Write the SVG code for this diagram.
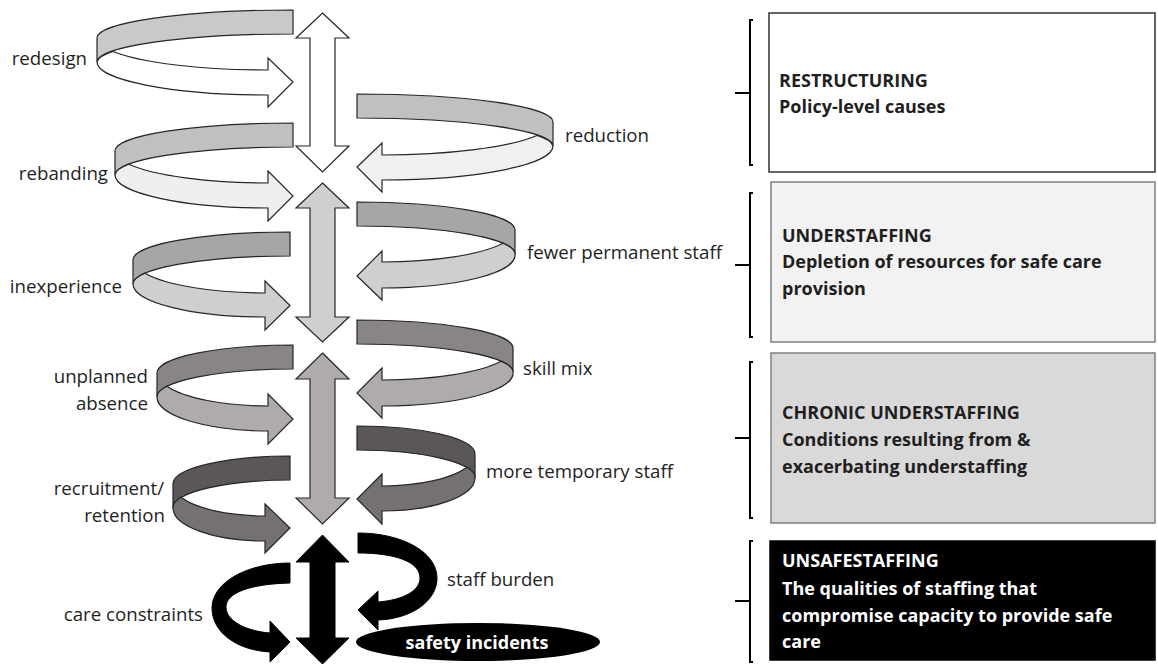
<svg xmlns="http://www.w3.org/2000/svg" width="1158" height="664" viewBox="0 0 1158 664">
<style>
.lbl{font-family:"Open Sans","Liberation Sans",sans-serif;font-size:18.7px;fill:#1f1f1f}
.bt{font-family:"Open Sans","Liberation Sans",sans-serif;font-weight:bold;font-size:18px;fill:#1f1f1f}
.wt{fill:#ffffff}
.s{stroke:#262626;stroke-width:1.2;stroke-linejoin:miter}
.br{fill:none;stroke:#000;stroke-width:2}
</style>
<rect x="0" y="0" width="1158" height="664" fill="#ffffff"/>

<!-- central double arrows -->
<g id="connectors">
<path id="vert1" class="s" fill="#ffffff" d="M322.5,13 L349,38 L335,38 L335,146 L349,146 L322.5,172 L296,146 L310,146 L310,38 L296,38 Z"/>
<path id="vert2" class="s" fill="#d0cece" d="M322.5,183 L349,208 L335,208 L335,317 L349,317 L322.5,342 L296,317 L310,317 L310,208 L296,208 Z"/>
<path id="vert3" class="s" fill="#afabab" d="M322.5,353 L349,379 L335,379 L335,498 L349,498 L322.5,524 L296,498 L310,498 L310,379 L296,379 Z"/>
<path id="vert4" fill="#000" stroke="#000" d="M322.5,535 L349,562 L335,562 L335,638 L349,638 L322.5,664 L296,638 L310,638 L310,562 L296,562 Z"/>
</g>

<!-- left loops -->
<g id="redesign">
<path class="s" fill="#c9c9c9" d="M293,10 A196,28 0 0 0 97,38 L97,62 A196,28 0 0 1 293,34 Z"/>
<path class="s" fill="#ffffff" d="M113,51.5 A171,32 0 0 0 268,70 L268,58 L293,82 L268,107 L268,95 A171,33 0 0 1 97,62 A196,28 0 0 1 113,51.5 Z"/>
<text class="lbl" x="87" y="65" text-anchor="end">redesign</text>
</g>
<g id="rebanding">
<path class="s" fill="#c0c0c0" d="M293,123 A178,28 0 0 0 115,151 L115,175 A178,28 0 0 1 293,147 Z"/>
<path class="s" fill="#efefef" d="M129,164.3 A153,32 0 0 0 268,183 L268,171 L293,196 L268,221 L268,208 A153,33 0 0 1 115,175 A178,28 0 0 1 129,164.3 Z"/>
<text class="lbl" x="108" y="180" text-anchor="end">rebanding</text>
</g>
<g id="inexperience">
<path class="s" fill="#a6a6a6" d="M290,232 A157,28 0 0 0 133,260 L133,284 A157,28 0 0 1 290,256 Z"/>
<path class="s" fill="#d0cece" d="M145,273.3 A132,32 0 0 0 265,293 L265,281 L290,305.5 L265,330 L265,317 A132,33 0 0 1 133,284 A157,28 0 0 1 145,273.3 Z"/>
<text class="lbl" x="122" y="293" text-anchor="end">inexperience</text>
</g>
<g id="unplanned-absence">
<path class="s" fill="#898585" d="M293,345 A136,28 0 0 0 157,373 L157,397 A136,28 0 0 1 293,369 Z"/>
<path class="s" fill="#afabab" d="M167,386.3 A111,32 0 0 0 268,406 L268,394 L293,419 L268,444 L268,431 A111,34 0 0 1 157,397 A136,28 0 0 1 167,386.3 Z"/>
<text class="lbl" x="148" y="383" text-anchor="end">unplanned</text>
<text class="lbl" x="148" y="410" text-anchor="end">absence</text>
</g>
<g id="recruitment-retention">
<path class="s" fill="#5b5757" d="M290,456 A117,28 0 0 0 173,484 L173,508 A117,28 0 0 1 290,480 Z"/>
<path class="s" fill="#767171" d="M181,497.3 A92,32 0 0 0 265,516 L265,504 L290,528 L265,553 L265,541 A92,33 0 0 1 173,508 A117,28 0 0 1 181,497.3 Z"/>
<text class="lbl" x="164" y="495" text-anchor="end">recruitment/</text>
<text class="lbl" x="165" y="522" text-anchor="end">retention</text>
</g>
<g id="care-constraints">
<path fill="#000" stroke="#000" d="M290,563 L290,583 C252,584 226,592 226,607 C226,621 246,631 270,633 L270,621 L290,642 L270,662 L270,652 C236,650 212,632 212,608 C212,582 248,563 290,563 Z"/>
<text class="lbl" x="203" y="621" text-anchor="end">care constraints</text>
</g>

<!-- right loops (mirrored) -->
<g id="reduction">
<g transform="matrix(-1 0 0 1 650 0)">
<path class="s" fill="#c0c0c0" d="M293,94 A196,28 0 0 0 97,122 L97,146 A196,28 0 0 1 293,118 Z"/>
<path class="s" fill="#f0f0f0" d="M113,135.5 A171,33 0 0 0 268,155 L268,143 L293,167 L268,192 L268,180 A171,34 0 0 1 97,146 A196,28 0 0 1 113,135.5 Z"/>
</g>
<text class="lbl" x="565" y="142">reduction</text>
</g>
<g id="fewer-permanent-staff">
<g transform="matrix(-1 0 0 1 650 0)">
<path class="s" fill="#a6a6a6" d="M293,202 A158,28 0 0 0 135,230 L135,254 A158,28 0 0 1 293,226 Z"/>
<path class="s" fill="#d0cece" d="M147,243.3 A133,32 0 0 0 268,262 L268,251 L293,276 L268,300 L268,288 A133,33 0 0 1 135,254 A158,28 0 0 1 147,243.3 Z"/>
</g>
<text class="lbl" x="527" y="259">fewer permanent staff</text>
</g>
<g id="skill-mix">
<g transform="matrix(-1 0 0 1 650 0)">
<path class="s" fill="#898585" d="M293,320 A156,28 0 0 0 137,348 L137,372 A156,28 0 0 1 293,344 Z"/>
<path class="s" fill="#afabab" d="M149,361.3 A131,32 0 0 0 268,380 L268,368 L293,393 L268,418 L268,406 A131,33 0 0 1 137,372 A156,28 0 0 1 149,361.3 Z"/>
</g>
<text class="lbl" x="523" y="375">skill mix</text>
</g>
<g id="more-temporary-staff">
<g transform="matrix(-1 0 0 1 650 0)">
<path class="s" fill="#5b5757" d="M293,426 A118,28 0 0 0 175,454 L175,478 A118,28 0 0 1 293,450 Z"/>
<path class="s" fill="#767171" d="M183,467.3 A93,32 0 0 0 268,486 L268,474 L293,499 L268,524 L268,511 A93,33 0 0 1 175,478 A118,28 0 0 1 183,467.3 Z"/>
</g>
<text class="lbl" x="486" y="478">more temporary staff</text>
</g>
<g id="staff-burden">
<path fill="#000" stroke="#000" d="M358,533 C402,533 437,552 437,578 C437,602 410,619 378,620 L378,630 L358,610 L378,591 L378,602 C403,600 420,591 420,578 C420,562 396,553 358,553 Z"/>
<text class="lbl" x="447" y="586">staff burden</text>
</g>
<g id="safety-incidents">
<ellipse cx="478" cy="642" rx="122" ry="19" fill="#000"/>
<text class="bt wt" x="477" y="649" text-anchor="middle">safety incidents</text>
</g>

<!-- right boxes -->
<g id="restructuring">
<path class="br" d="M753,20 L750,20 L750,165 L753,165 M735,93 L750,93"/>
<rect x="769" y="13" width="386" height="159" fill="#ffffff" stroke="#333" stroke-width="1.5"/>
<text class="bt" x="779" y="87">RESTRUCTURING</text>
<text class="bt" x="779" y="113">Policy-level causes</text>
</g>
<g id="understaffing">
<path class="br" d="M753,193 L750,193 L750,337 L753,337 M735,265 L750,265"/>
<rect x="771" y="182" width="384" height="160" fill="#f2f2f2" stroke="#7f7f7f" stroke-width="1.5"/>
<text class="bt" x="782" y="242">UNDERSTAFFING</text>
<text class="bt" x="782" y="268">Depletion of resources for safe care</text>
<text class="bt" x="782" y="295">provision</text>
</g>
<g id="chronic-understaffing">
<path class="br" d="M753,362 L750,362 L750,518 L753,518 M735,438 L750,438"/>
<rect x="771" y="353" width="384" height="170" fill="#d9d9d9" stroke="#7f7f7f" stroke-width="1.5"/>
<text class="bt" x="782" y="419">CHRONIC UNDERSTAFFING</text>
<text class="bt" x="782" y="446">Conditions resulting from &amp;</text>
<text class="bt" x="782" y="473">exacerbating understaffing</text>
</g>
<g id="unsafe-staffing">
<path class="br" d="M753,541 L750,541 L750,662 L753,662 M735,601 L750,601"/>
<rect x="770" y="541" width="385" height="119" fill="#000" stroke="#000" stroke-width="1.5"/>
<text class="bt wt" x="782" y="567">UNSAFESTAFFING</text>
<text class="bt wt" x="782" y="595">The qualities of staffing that</text>
<text class="bt wt" x="782" y="622">compromise capacity to provide safe</text>
<text class="bt wt" x="782" y="648">care</text>
</g>
</svg>
